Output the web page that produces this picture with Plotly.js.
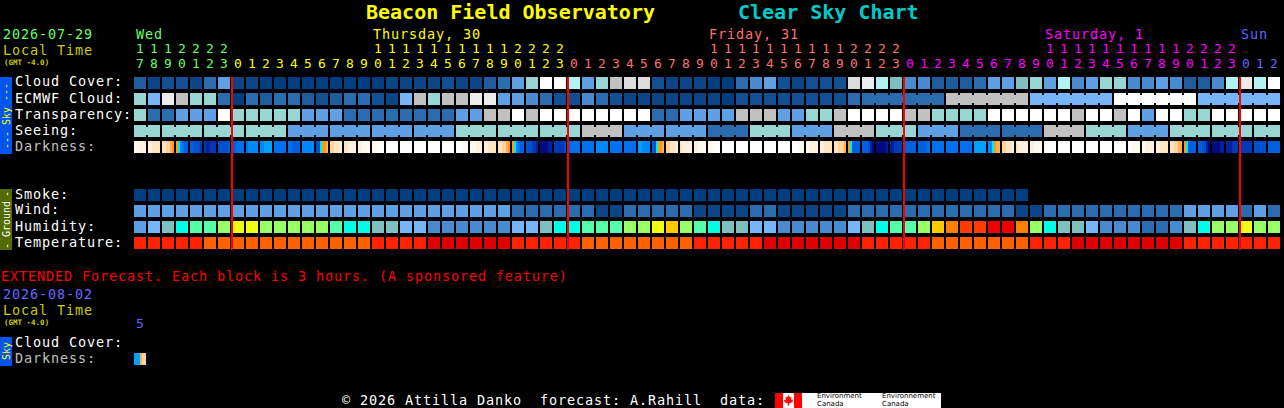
<!DOCTYPE html>
<html><head><meta charset="utf-8">
<script src="https://cdn.plot.ly/plotly-3.0.1.min.js"></script>
<style>html,body{margin:0;padding:0;background:#000;overflow:hidden}#c{width:1284px;height:408px}</style>
</head><body><div id="c"></div>
<script>
const hours=[17,18,19,20,21,22,23,0,1,2,3,4,5,6,7,8,9,10,11,12,13,14,15,16,17,18,19,20,21,22,23,0,1,2,3,4,5,6,7,8,9,10,11,12,13,14,15,16,17,18,19,20,21,22,23,0,1,2,3,4,5,6,7,8,9,10,11,12,13,14,15,16,17,18,19,20,21,22,23,0,1,2];
const dayColors=["#66ff66","#ffff00","#ff7070","#ff00ff","#6666ff"];
const palette=["#003f7f","#0b4585","#135093","#1e5c9e","#2b6cae","#4a8bcf","#5f9fe3","#76b6f8","#80bfbf","#98d6d4","#b2f2f2","#c0c0c0","#dcdcdc","#ececec","#ffffff","#00ffe6","#55ffaa","#99ff66","#eeff11","#ffc800","#ff8000","#ff6000","#ff3c00","#ff2200","#ee0000","#e00000"];
const darkPalette=["#ffffff","#fff8ee","#fff0dc","#ffe4c0","#ffd49a","#ffb050","#ff9a10","#00e8ff","#00a0ff","#0088ff","#0070f0","#0060e0","#0050d0","#0038b8","#0020a0","#000a80"];

const cloudCover=[3,1,2,2,1,4,6,1,1,0,0,0,0,0,0,0,0,0,1,1,1,1,2,1,1,3,4,6,9,14,14,10,6,9,11,12,12,2,1,1,1,0,0,4,5,6,2,1,2,2,2,12,13,10,8,5,5,3,3,3,4,6,6,8,9,6,10,5,6,9,9,5,5,6,5,3,3,5,10,13,10,14];
const ecmwfCloud=[9,7,13,11,9,9,4,0,4,3,4,4,3,2,3,4,4,2,1,7,11,9,11,11,13,13,6,6,5,4,2,2,5,4,2,1,1,1,1,1,1,1,0,2,2,2,2,2,2,2,2,4,4,4,4,4,4,4,11,11,11,11,11,11,7,7,7,7,7,7,14,14,14,14,14,14,7,7,7,7,7,7];
const transparency=[9,4,4,6,6,6,14,9,9,9,9,9,6,6,6,4,4,4,4,4,4,4,4,6,6,11,11,14,11,14,14,14,14,14,14,14,14,4,4,6,6,6,6,11,11,11,6,6,9,9,11,14,14,14,14,11,11,9,9,9,9,14,14,14,14,14,14,11,14,14,11,14,6,14,14,9,9,14,14,14,14,14];
const seeing=[9,9,9,9,9,9,9,9,9,9,9,6,6,6,6,6,6,6,6,6,6,6,6,9,9,9,9,9,9,9,9,9,11,11,11,6,6,6,6,6,6,4,4,4,9,9,9,6,6,6,11,11,11,9,9,9,6,6,6,4,4,4,4,4,4,11,11,11,9,9,9,6,6,6,9,9,9,9,9,9,9,9];
const smoke=[0,0,0,0,0,0,0,0,0,0,0,0,0,0,0,0,0,0,0,0,0,0,0,0,0,0,0,0,0,0,0,0,0,0,0,0,0,0,0,0,0,0,0,0,0,0,0,0,0,0,0,0,0,0,0,0,0,0,0,0,0,0,0,0];
const wind=[6,6,6,6,6,6,6,6,6,6,6,6,6,6,6,6,6,6,6,6,6,6,6,6,6,6,6,4,4,4,4,4,4,1,1,4,4,4,4,4,1,1,1,1,4,4,1,1,1,1,1,4,4,4,4,4,4,4,4,4,4,4,4,1,1,4,4,4,4,4,4,4,4,4,4,6,6,6,6,4,6,4];
const humidity=[6,7,8,15,16,16,17,18,18,17,17,17,17,17,16,15,15,8,8,7,7,5,5,5,5,5,5,7,7,8,15,15,16,16,16,17,17,18,19,17,16,15,8,8,7,7,5,5,5,5,5,7,8,15,16,16,17,19,20,22,22,24,24,20,17,15,8,8,7,5,5,5,4,4,5,8,15,17,17,18,17,17];
const temperature=[23,23,23,23,23,21,21,21,21,21,21,21,21,21,21,21,21,23,23,23,23,25,25,25,25,25,25,23,23,23,23,23,21,21,21,21,21,21,21,21,23,23,23,23,23,25,25,25,25,25,25,25,23,23,23,23,23,21,21,21,21,21,21,21,23,23,23,25,25,25,25,25,25,25,25,23,23,23,23,23,23,23];
const seeingGroupSizes=[2,3,3,3,3,3,3,3,3,3,3,3,3,3,3,3,3,3,3,3,3,3,3,3,3,3,3,2];
const ecmwfGroupSizes=[1,1,1,1,1,1,1,1,1,1,1,1,1,1,1,1,1,1,1,1,1,1,1,1,1,1,1,1,1,1,1,1,1,1,1,1,1,1,1,1,1,1,1,1,1,1,1,1,1,1,1,1,6,6,6,6,6];
const darkness=[
[1,1,1,2,2,2],[2,2,3,3,3,3],[3,3,4,4,5,6],[6,7,9,10,11,11],[11,11,12,12,12,13],[13,14,14,13,13,13],[12,12,12,12,12,11],
[11,11,10,10,10,10],[10,9,9,9,9,9],[9,9,8,8,8,8],[10,10,10,10,10,10],[10,10,11,11,11,11],[9,9,9,9,9,9],[12,12,7,6,6,5],[4,4,3,3,3,2],[3,3,2,2,2,2],[2,2,1,1,1,1],[1,1,1,0,0,0],
[0,0,0,0,0,0],[0,0,0,0,0,0],[0,0,0,0,0,0],[0,0,0,0,0,0],[0,0,0,0,0,0],[0,0,0,1,1,1],[1,1,1,2,2,2],[2,2,3,3,3,3],[3,3,4,4,5,6],[6,7,9,10,11,11],[12,12,12,13,13,14],[15,15,15,15,14,14],[13,13,13,13,13,12],
[11,10,10,10,10,10],[10,10,10,10,10,10],[9,9,9,9,9,9],[10,10,10,10,10,10],[10,10,10,10,10,10],[8,8,9,9,9,9],[11,12,7,6,6,5],[4,4,3,3,3,2],[3,2,2,2,2,2],[2,2,1,1,1,1],[1,1,1,0,0,0],
[0,0,0,0,0,0],[0,0,0,0,0,0],[0,0,0,0,0,0],[0,0,0,0,0,0],[0,0,0,0,0,0],[0,0,0,1,1,1],[1,1,2,2,2,2],[2,2,3,3,3,3],[3,3,4,4,4,5],[6,7,11,11,11,11],[11,11,11,12,14,15],[15,15,15,15,15,14],[14,14,13,13,13,13],
[11,11,11,11,11,11],[11,11,11,11,10,10],[10,10,10,10,10,10],[10,10,10,10,10,10],[10,10,10,10,10,10],[8,8,8,8,8,8],[9,9,7,6,5,5],[4,4,3,3,3,2],[3,2,2,2,2,2],[2,2,1,1,1,1],[1,0,0,0,0,0],
[0,0,0,0,0,0],[0,0,0,0,0,0],[0,0,0,0,0,0],[0,0,0,0,0,0],[0,0,0,0,0,0],[0,0,1,1,1,1],[1,1,2,2,2,2],[2,2,3,3,3,3],[3,3,4,4,5,5],[6,7,11,11,11,11],[11,11,12,12,14,15],[15,15,15,15,14,14],[14,14,14,13,13,13],
[13,13,13,13,13,13],[12,12,12,12,12,12],[11,11,11,11,11,11]];
const extendedDarkness=[[8,8,8,5,4,4]];

const W=1284,H=408,N=hours.length;
const hx=p=>(p-140)/14, ry=p=>(p-83)/16;
const nulls=()=>new Array(N).fill(null);
const pad=a=>a.concat(new Array(N-a.length).fill(null));
const scale=pal=>{const o=[];pal.forEach((c,i)=>{o.push([i/pal.length,c]);o.push([(i+1)/pal.length,c]);});return o;};
const cs=scale(palette), dcs=scale(darkPalette);
const base={type:'heatmap',showscale:false,hoverinfo:'skip',colorscale:cs,zmin:-0.5,zmax:palette.length-0.5};
const dbase={type:'heatmap',showscale:false,hoverinfo:'skip',colorscale:dcs,zmin:-0.5,zmax:darkPalette.length-0.5};

const rows=[cloudCover,ecmwfCloud,transparency,seeing,nulls(),nulls(),nulls(),pad(smoke),wind,humidity,temperature];
const joins=(levels,groups)=>{const o=[];let i=0;groups.forEach(g=>{for(let k=0;k<g;k++){o.push(k<g-1?levels[i]:null);i++;}});return o;};
const joinRows=[nulls(),joins(ecmwfCloud,ecmwfGroupSizes),nulls(),joins(seeing,seeingGroupSizes)];
const darkRow=[];darkness.forEach(c=>{darkRow.push(...c,null);});
const extRow=[];extendedDarkness.forEach(c=>{extRow.push(...c,null);});

let day=0;const colr=hours.map((h,i)=>{if(i>0&&h===0)day++;return dayColors[day];});
const mono='"DejaVu Sans Mono",monospace';
const idx=hours.map((_,i)=>i);
const tensIdx=idx.filter(i=>hours[i]>=10);
const LABEL=13.5, DIGIT=13;

const traces=[
 Object.assign({},base,{z:rows,x0:0,dx:1,y0:0,dy:1,xgap:2,ygap:4}),
 Object.assign({},base,{z:joinRows,x0:0.5,dx:1,y0:0,dy:1,xgap:12,ygap:8}),
 Object.assign({},dbase,{z:[darkRow],x0:hx(135),dx:1/7,y0:4,dy:1,ygap:4}),
 Object.assign({},dbase,{z:[extRow],x0:hx(135),dx:1/7,y0:ry(359),dy:1,ygap:4}),
 {type:'scatter',mode:'text',x:idx,y:idx.map(()=>ry(65)),text:hours.map(h=>String(h%10)),
  textfont:{family:mono,size:DIGIT,color:colr},textposition:'middle center',hoverinfo:'skip'},
 {type:'scatter',mode:'text',x:tensIdx,y:tensIdx.map(()=>ry(50)),text:tensIdx.map(i=>String(Math.floor(hours[i]/10))),
  textfont:{family:mono,size:DIGIT,color:tensIdx.map(i=>colr[i])},textposition:'middle center',hoverinfo:'skip'},
 {type:'scatter',mode:'text',x:[hx(140)],y:[ry(325)],text:['5'],textfont:{family:mono,size:DIGIT,color:'#6666ff'},textposition:'middle center',hoverinfo:'skip'}
];

const T=(text,x,y,color,size,opt)=>Object.assign({text:size?text:'<span style="letter-spacing:0.87px">'+text+'</span>',
  xref:'paper',yref:'paper',x:x/W,y:1-y/H,xanchor:'left',yanchor:'middle',
  showarrow:false,borderpad:0,font:{family:mono,size:size||LABEL,color:color}},opt||{});
const V=(text,y,color,size)=>T(text,6,y,color,size,{xanchor:'center',textangle:-90});
const small={font:{family:'"DejaVu Sans"',size:7,color:'#000'}};
const annotations=[
 T('<b>Beacon Field Observatory</b>',365,12,'#ffff00',20),
 T('<b>Clear Sky Chart</b>',737,12,'#00cccc',20),
 T('2026-07-29',2,34,'#66ff66'),T('Local Time',2,50,'#cccc00'),T('<b>(GMT -4.0)</b>',3,62,'#cccc00',7.5),
 T('Wed',134.5,34,'#66ff66'),T('Thursday, 30',372,34,'#ffff00'),T('Friday, 31',708,34,'#ff7070'),
 T('Saturday, 1',1044,34,'#ff00ff'),T('Sun',1239.5,34,'#6666ff'),
 T('Cloud Cover:',14,81.5,'#ffffff'),T('ECMWF Cloud:',14,97.5,'#ffffff'),T('Transparency:',14,113.5,'#ffffff'),
 T('Seeing:',14,129.5,'#ffffff'),T('Darkness:',14,145.5,'#c0c0c0'),
 T('Smoke:',14,193.5,'#ffffff'),T('Wind:',14,209.5,'#ffffff'),T('Humidity:',14,225.5,'#ffffff'),T('Temperature:',14,241.5,'#ffffff'),
 T('EXTENDED Forecast. Each block is 3 hours. (A sponsored feature)',0,276,'#ff0000'),
 T('2026-08-02',2,294,'#6666ff'),T('Local Time',2,310,'#cccc00'),T('<b>(GMT -4.0)</b>',3,322,'#cccc00',7.5),
 T('Cloud Cover:',14,341.5,'#ffffff'),T('Darkness:',14,357.5,'#c0c0c0'),
 V('---',92,'#ffff00',10),V('Sky',116,'#ffff00',10),V('---',140,'#ffff00',10),
 V('-',194,'#ffffff',10),V('Ground',219,'#ffffff',10),V('-',246,'#ffffff',10),
 V('Sky',351,'#ffff00',10),
 T('© 2026 Attilla Danko  forecast: A.Rahill  data:',341,400,'#ffffff'),
 T('Environment',816,396,'#000',7,small),T('Canada',816,403.5,'#000',7,small),
 T('Environnement',881,396,'#000',7,small),T('Canada',881,403.5,'#000',7,small)
];
const R=(x0,x1,y0,y1,color)=>({type:'rect',xref:'x',yref:'y',x0:hx(x0),x1:hx(x1),y0:ry(y0),y1:ry(y1),fillcolor:color,line:{width:0},layer:'below'});
const leaf=[[788.5,395],[790,397.5],[791.5,397],[791,400],[793,399.5],[792.5,402],[789.2,403.5],[789.2,405.5],[787.8,405.5],[787.8,403.5],[784.5,402],[784,399.5],[786,400],[785.5,397],[787,397.5]];
const shapes=[
 R(0,12,77,154,'#0055ee'),R(0,12,189,250,'#556b00'),R(0,12,337,366,'#0055ee'),
 R(775,783,393,408,'#ff0000'),R(783,794,393,408,'#ffffff'),R(794,802,393,408,'#ff0000'),R(802,941,393,408,'#ffffff'),
 {type:'path',xref:'x',yref:'y',path:'M'+leaf.map(p=>hx(p[0])+','+ry(p[1])).join('L')+'Z',fillcolor:'#ff0000',line:{width:0}}
];
hours.forEach((h,i)=>{if(h===0&&i>0)shapes.push({type:'line',xref:'x',yref:'y',x0:i-0.43,x1:i-0.43,y0:ry(77),y1:ry(250),line:{color:'#ff0000',width:2},layer:'above'});});

Plotly.newPlot('c',traces,{
 width:W,height:H,margin:{l:0,r:0,t:0,b:0,pad:0},paper_bgcolor:'#000',plot_bgcolor:'#000',showlegend:false,
 xaxis:{range:[hx(0),hx(W)],visible:false,fixedrange:true,showgrid:false,zeroline:false},
 yaxis:{range:[ry(H),ry(0)],visible:false,fixedrange:true,showgrid:false,zeroline:false},
 annotations:annotations,shapes:shapes
},{staticPlot:true,displayModeBar:false});
</script></body></html>
